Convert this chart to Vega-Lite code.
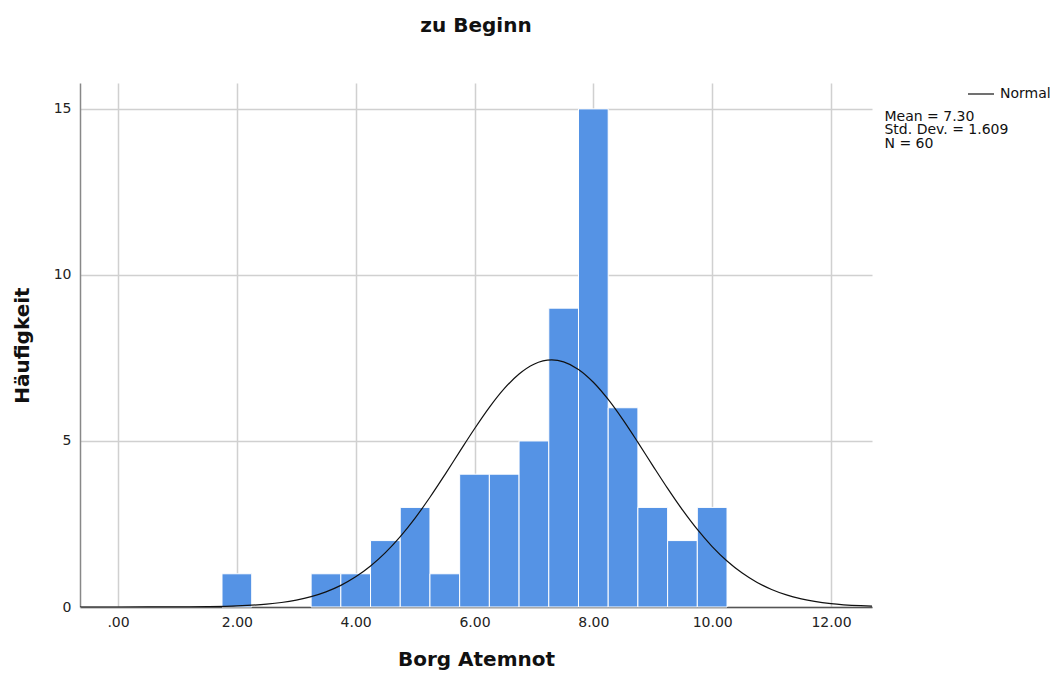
{
  "$schema": "https://vega.github.io/schema/vega-lite/v6.json",
  "width": 792,
  "height": 524,
  "autosize": {"type": "none"},
  "padding": {"left": 80, "top": 83, "right": 184, "bottom": 68},
  "background": "white",
  "title": {
    "text": "zu Beginn",
    "anchor": "middle",
    "offset": 44,
    "font": "DejaVu Sans",
    "fontSize": 20,
    "fontWeight": "bold",
    "color": "#111111"
  },
  "config": {
    "view": {"stroke": null},
    "font": "DejaVu Sans",
    "axis": {
      "gridColor": "#d0d0d0",
      "gridWidth": 1.5,
      "ticks": false,
      "labelFont": "DejaVu Sans",
      "labelFontSize": 14,
      "labelColor": "#222222",
      "titleFont": "DejaVu Sans",
      "titleFontSize": 20,
      "titleFontWeight": "bold",
      "titleColor": "#111111"
    }
  },
  "datasets": {
    "bins": [
      {"start": 1.75, "end": 2.25, "count": 1},
      {"start": 3.25, "end": 3.75, "count": 1},
      {"start": 3.75, "end": 4.25, "count": 1},
      {"start": 4.25, "end": 4.75, "count": 2},
      {"start": 4.75, "end": 5.25, "count": 3},
      {"start": 5.25, "end": 5.75, "count": 1},
      {"start": 5.75, "end": 6.25, "count": 4},
      {"start": 6.25, "end": 6.75, "count": 4},
      {"start": 6.75, "end": 7.25, "count": 5},
      {"start": 7.25, "end": 7.75, "count": 9},
      {"start": 7.75, "end": 8.25, "count": 15},
      {"start": 8.25, "end": 8.75, "count": 6},
      {"start": 8.75, "end": 9.25, "count": 3},
      {"start": 9.25, "end": 9.75, "count": 2},
      {"start": 9.75, "end": 10.25, "count": 3}
    ],
    "normal": [
      {"x": -0.64, "y": 0.0},
      {"x": 0.0, "y": 0.0003},
      {"x": 0.5, "y": 0.001},
      {"x": 1.0, "y": 0.0035},
      {"x": 1.5, "y": 0.011},
      {"x": 2.0, "y": 0.033},
      {"x": 2.5, "y": 0.087},
      {"x": 2.75, "y": 0.136},
      {"x": 3.0, "y": 0.209},
      {"x": 3.25, "y": 0.313},
      {"x": 3.5, "y": 0.457},
      {"x": 3.75, "y": 0.652},
      {"x": 4.0, "y": 0.908},
      {"x": 4.25, "y": 1.234},
      {"x": 4.5, "y": 1.637},
      {"x": 4.75, "y": 2.119},
      {"x": 5.0, "y": 2.678},
      {"x": 5.25, "y": 3.304},
      {"x": 5.5, "y": 3.979},
      {"x": 5.75, "y": 4.678},
      {"x": 6.0, "y": 5.368},
      {"x": 6.25, "y": 6.013},
      {"x": 6.5, "y": 6.575},
      {"x": 6.75, "y": 7.018},
      {"x": 7.0, "y": 7.312},
      {"x": 7.3, "y": 7.44},
      {"x": 7.5, "y": 7.383},
      {"x": 7.75, "y": 7.155},
      {"x": 8.0, "y": 6.768},
      {"x": 8.25, "y": 6.25},
      {"x": 8.5, "y": 5.634},
      {"x": 8.75, "y": 4.957},
      {"x": 9.0, "y": 4.258},
      {"x": 9.25, "y": 3.57},
      {"x": 9.5, "y": 2.922},
      {"x": 9.75, "y": 2.334},
      {"x": 10.0, "y": 1.82},
      {"x": 10.25, "y": 1.386},
      {"x": 10.5, "y": 1.03},
      {"x": 10.75, "y": 0.747},
      {"x": 11.0, "y": 0.529},
      {"x": 11.25, "y": 0.365},
      {"x": 11.5, "y": 0.247},
      {"x": 12.0, "y": 0.104},
      {"x": 12.5, "y": 0.04},
      {"x": 12.69, "y": 0.027}
    ],
    "stats": [
      {"label": "Mean = 7.30\nStd. Dev. = 1.609\nN = 60"}
    ]
  },
  "layer": [
    {
      "data": {"name": "bins"},
      "mark": {"type": "rect", "fill": "#5593e5", "stroke": "#ffffff", "strokeWidth": 1},
      "encoding": {
        "x": {
          "field": "start",
          "type": "quantitative",
          "scale": {"domain": [-0.64, 12.69], "nice": false, "zero": false},
          "axis": {
            "title": "Borg Atemnot",
            "values": [0, 2, 4, 6, 8, 10, 12],
            "labelExpr": "datum.value == 0 ? '.00' : format(datum.value, '.2f')",
            "labelPadding": 8,
            "titlePadding": 20,
            "domainColor": "#555555",
            "domainWidth": 1.5
          }
        },
        "x2": {"field": "end"},
        "y": {
          "field": "count",
          "type": "quantitative",
          "scale": {"domain": [0, 15.78], "nice": false},
          "axis": {
            "title": "Häufigkeit",
            "values": [0, 5, 10, 15],
            "labelPadding": 9,
            "titlePadding": 21,
            "domainColor": "#888888",
            "domainWidth": 1.5
          }
        },
        "y2": {"datum": 0}
      }
    },
    {
      "data": {"name": "normal"},
      "mark": {"type": "line", "interpolate": "monotone", "strokeWidth": 1.2, "clip": true},
      "encoding": {
        "x": {"field": "x", "type": "quantitative"},
        "y": {"field": "y", "type": "quantitative"},
        "color": {
          "datum": "Normal",
          "type": "nominal",
          "scale": {"range": ["#111111"]},
          "legend": {
            "title": null,
            "orient": "none",
            "legendX": 887,
            "legendY": -3,
            "padding": 0,
            "symbolType": "stroke",
            "symbolSize": 676,
            "symbolStrokeWidth": 1.2,
            "labelFont": "DejaVu Sans",
            "labelFontSize": 14,
            "labelColor": "#111111",
            "labelOffset": 5
          }
        }
      }
    },
    {
      "data": {"name": "stats"},
      "mark": {
        "type": "text",
        "align": "left",
        "baseline": "top",
        "lineBreak": "\n",
        "lineHeight": 13.5,
        "fontSize": 14,
        "font": "DejaVu Sans",
        "color": "#111111",
        "clip": false
      },
      "encoding": {
        "x": {"datum": 12.9},
        "y": {"datum": 14.98},
        "text": {"field": "label"}
      }
    }
  ]
}
